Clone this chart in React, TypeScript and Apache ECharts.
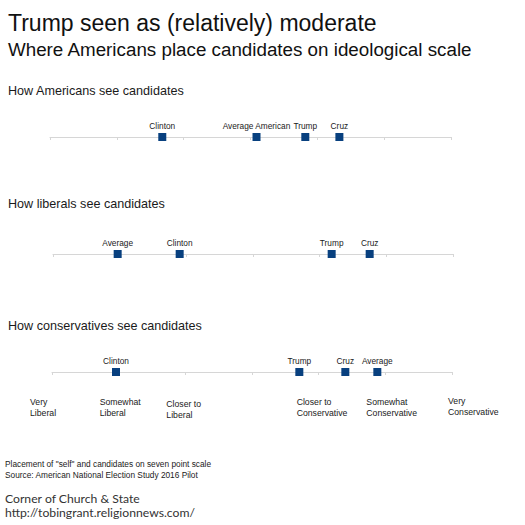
import React, { useEffect, useRef } from "react";
import * as echarts from "echarts";

const panelTitles = [
  "How Americans see candidates",
  "How liberals see candidates",
  "How conservatives see candidates",
];
const americansNames = ["Clinton", "Average American", "Trump", "Cruz"];
const americansValues = [2.68, 4.09, 4.82, 5.33];
const liberalsNames = ["Average", "Clinton", "Trump", "Cruz"];
const liberalsValues = [1.97, 2.9, 5.18, 5.75];
const conservativesNames = ["Clinton", "Trump", "Cruz", "Average"];
const conservativesValues = [1.96, 4.71, 5.4, 5.88];
const scaleTicks = [1, 2, 3, 4, 5, 6, 7];
const scaleLabels = [
  "Very\nLiberal",
  "Somewhat\nLiberal",
  "Closer to\nLiberal",
  "",
  "Closer to\nConservative",
  "Somewhat\nConservative",
  "Very\nConservative",
];

const FONT = "'Liberation Sans', Arial, Helvetica, sans-serif";
const BLUE = "#08407f";

export default function App() {
  const ref = useRef<HTMLDivElement>(null);
  useEffect(() => {
    if (!ref.current) return;
    const chart = echarts.init(ref.current, null, { renderer: "svg" });
    const grids = [
      { left: 50, right: 74, top: 127, height: 10 },
      { left: 53, right: 72, top: 244, height: 10 },
      { left: 52, right: 73, top: 362, height: 10 },
    ];
    const groups = [
      { names: americansNames, values: americansValues },
      { names: liberalsNames, values: liberalsValues },
      { names: conservativesNames, values: conservativesValues },
    ];
    const titleY = [92, 205, 327];
    const option: any = {
      animation: false,
      backgroundColor: "#ffffff",
      grid: grids,
      xAxis: grids.map((_, i) => ({
        gridIndex: i,
        type: "value",
        min: scaleTicks[0],
        max: scaleTicks[scaleTicks.length - 1],
        interval: 1,
        position: "bottom",
        axisLine: { show: true, lineStyle: { color: "#d6d6d6", width: 1 } },
        axisTick: { show: true, length: 3, lineStyle: { color: "#d6d6d6" } },
        axisLabel: { show: false },
        splitLine: { show: false },
      })),
      yAxis: grids.map((_, i) => ({
        gridIndex: i,
        type: "value",
        min: 0,
        max: 1,
        show: false,
      })),
      series: groups.map((g, i) => ({
        type: "scatter",
        xAxisIndex: i,
        yAxisIndex: i,
        symbol: "rect",
        symbolSize: 8,
        itemStyle: { color: BLUE, opacity: 1 },
        label: {
          show: true,
          position: "top",
          distance: 3.5,
          formatter: (p: any) => g.names[p.dataIndex],
          fontFamily: FONT,
          fontSize: 8.3,
          color: "#1a1a1a",
        },
        data: g.values.map((v) => [v, 0]),
      })),
      graphic: [
        {
          type: "text",
          left: 8,
          top: 11,
          style: {
            text: "Trump seen as (relatively) moderate",
            fontFamily: FONT,
            fontSize: 23,
            fill: "#111",
          },
        },
        {
          type: "text",
          left: 8,
          top: 40,
          style: {
            text: "Where Americans place candidates on ideological scale",
            fontFamily: FONT,
            fontSize: 18.8,
            fill: "#111",
          },
        },
        ...panelTitles.map((t, i) => ({
          type: "text",
          left: 8,
          top: titleY[i] - 8,
          style: { text: t, fontFamily: FONT, fontSize: 12.6, fill: "#1a1a1a" },
        })),
        {
          type: "text",
          left: 5,
          top: 458,
          style: {
            text:
              'Placement of "self" and candidates on seven point scale\nSource: American National Election Study 2016 Pilot',
            fontFamily: FONT,
            fontSize: 8.3,
            lineHeight: 11,
            fill: "#1a1a1a",
          },
        },
        {
          type: "text",
          left: 5,
          top: 491,
          style: {
            text: "Corner of Church & State\nhttp://tobingrant.religionnews.com/",
            fontFamily: "Lato, 'Open Sans', sans-serif",
            fontSize: 12.2,
            lineHeight: 14,
            fill: "#333",
          },
        },
      ],
    };
    chart.setOption(option);

    const labelDx = [-22, -19, -19, 0, -22, -19, -4];
    const labelDy = [0, 0, 2, 0, 0, 0, -1];
    const labelGraphics = scaleTicks
      .map((t, i) => {
        if (!scaleLabels[i]) return null;
        const px = chart.convertToPixel({ xAxisIndex: 2 }, t) as number;
        return {
          type: "text",
          x: px + labelDx[i],
          y: 396 + labelDy[i],
          style: {
            text: scaleLabels[i],
            fontFamily: FONT,
            fontSize: 8.7,
            lineHeight: 11,
            fill: "#1a1a1a",
            align: "left",
          },
        };
      })
      .filter(Boolean);
    chart.setOption({ graphic: [...option.graphic, ...labelGraphics] });

    return () => chart.dispose();
  }, []);
  return <div ref={ref} style={{ width: 525, height: 525, position: "absolute", left: 0, top: 0 }} />;
}
